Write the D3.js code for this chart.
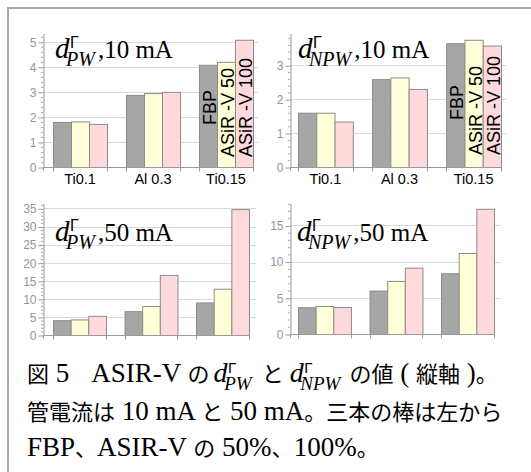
<!DOCTYPE html>
<html><head><meta charset="utf-8">
<script src="https://cdn.jsdelivr.net/npm/d3@7"></script>
<style>body{margin:0;background:#fff}svg{display:block}text{white-space:pre}</style>
</head><body>
<svg id="c" width="531" height="472"></svg>
<script>
// ---- data ----
const categories = ["Ti0.1", "Al 0.3", "Ti0.15"];
const seriesNames = ["FBP", "ASiR -V 50", "ASiR -V 100"];
const seriesColors = ["#a6a6a6", "#ffffd8", "#ffd9dc"];
// values per category: [FBP, ASiR-V 50, ASiR-V 100]
const dPW10  = [[1.80, 1.82, 1.72], [2.88, 2.95, 3.00], [4.08, 4.20, 5.08]];
const dNPW10 = [[1.60, 1.60, 1.34], [2.59, 2.64, 2.30], [3.65, 3.75, 3.58]];
const dPW50  = [[4.1, 4.3, 5.3], [6.6, 8.0, 16.6], [9.0, 12.8, 34.8]];
const dNPW50 = [[3.7, 3.87, 3.73], [6.0, 7.33, 9.17], [8.4, 11.2, 17.3]];
const ticksPW10  = [0, 1, 2, 3, 4, 5];
const ticksNPW10 = [0, 1, 2, 3];
const ticksPW50  = [0, 5, 10, 15, 20, 25, 30, 35];
const ticksNPW50 = [0, 5, 10, 15];
const titleSubs = ["PW", "NPW", "PW", "NPW"];
const titleRest = [",10 mA", ",10 mA", ",50 mA", ",50 mA"];
const captionLine1a = "図 5　ASIR-V の";
const captionLine1b = "と";
const captionLine1c = "の値 ( 縦軸 )。";
const captionLine2 = "管電流は 10 mA と 50 mA。三本の棒は左から";
const captionLine3 = "FBP、ASIR-V の 50%、100%。";

// ---- layout ----
const panels = [
  {data: dPW10,  ticks: ticksPW10,  max: 5.35, minor: 0.2, ax: 43,  y0: 167, yTop: 33,  b0: 53,  b1: 253, gEnd: 258, showX: true,  rot: [42, 10, 10]},
  {data: dNPW10, ticks: ticksNPW10, max: 3.95, minor: 0.2, ax: 290, y0: 167, yTop: 33,  b0: 298, b1: 501, gEnd: 507, showX: true,  rot: [47, 12, 12]},
  {data: dPW50,  ticks: ticksPW50,  max: 36.5, minor: 1,   ax: 43,  y0: 335, yTop: 203, b0: 53,  b1: 249, gEnd: 256, showX: false},
  {data: dNPW50, ticks: ticksNPW50, max: 18.1, minor: 1,   ax: 290, y0: 334, yTop: 203, b0: 298, b1: 494, gEnd: 500, showX: false}
];
const titlePos = [[55, 58], [298, 58], [55, 241], [297, 241]];

const svg = d3.select("#c");
const SANS = "Liberation Sans, Arial, sans-serif";
const SERIF = "Liberation Serif, Times New Roman, serif";
const JP = "Noto Sans CJK JP, sans-serif";
const CJK_RE = /[\u3000-\u30ff\u4e00-\u9fff\uff00-\uffef]/;

// frame
svg.append("path").attr("d", "M8,472V8H531").attr("fill", "none")
  .attr("stroke", "#a8a8a8").attr("stroke-width", 2);

// appends a positioned run to text element t, returns its advance
function run(t, x, y, s, fam, size, italic) {
  const sp = t.append("tspan").attr("x", x).attr("y", y).attr("font-family", fam)
    .attr("font-size", size).text(s);
  if (italic) sp.attr("font-style", "italic");
  return sp.node().getComputedTextLength();
}
// d with Γ superscript and subscript, all inside text element t
function mathD(t, x, y, sub, dSize, subSize, gSize) {
  const dw = run(t, x, y, "d", SERIF, dSize, true);
  const sx = x + dw - dSize * 0.12;
  const sw = run(t, sx, y + dSize * 0.27, sub, SERIF, subSize, true);
  run(t, x + dw + 0.5, y - dSize * 0.33, "Γ", SANS, gSize, false);
  return dw - dSize * 0.12 + sw;
}
// Japanese / Latin mixed string, returns advance
function mixed(t, x, y, str) {
  const runs = [];
  for (const ch of str) {
    const isJ = CJK_RE.test(ch);
    if (runs.length && runs[runs.length - 1].j === isJ) runs[runs.length - 1].s += ch;
    else runs.push({j: isJ, s: ch});
  }
  let cx = x;
  runs.forEach(r => { cx += run(t, cx, y, r.s, r.j ? JP : SERIF, r.j ? 22 : 27, false); });
  return cx - x;
}

panels.forEach((p, i) => {
  const g = svg.append("g");
  const y = d3.scaleLinear().domain([0, p.max]).range([p.y0, p.yTop]);
  const x = d3.scaleBand().domain(categories).range([p.b0, p.b1]).paddingInner(0.26).paddingOuter(0);
  const xs = d3.scaleBand().domain(seriesNames).range([0, x.bandwidth()]);

  // grid
  g.append("g").selectAll("line").data(p.ticks.filter(t => t > 0)).join("line")
    .attr("x1", p.ax).attr("x2", p.gEnd)
    .attr("y1", d => Math.round(y(d)) + 0.5).attr("y2", d => Math.round(y(d)) + 0.5)
    .attr("stroke", "#dadada").attr("stroke-width", 1);

  // bars
  categories.forEach((c, ci) => {
    g.append("g").selectAll("rect").data(p.data[ci]).join("rect")
      .attr("x", (v, si) => x(c) + xs(seriesNames[si]) + 0.5)
      .attr("y", v => y(v) + 0.5)
      .attr("width", xs.bandwidth())
      .attr("height", v => y(0) - y(v))
      .attr("fill", (v, si) => seriesColors[si])
      .attr("stroke", "#8c8c8c").attr("stroke-width", 1);
  });

  // y axis
  const ya = g.append("g").attr("transform", `translate(${p.ax + 0.5},0.5)`)
    .call(d3.axisLeft(y).tickValues(p.ticks).tickSize(5).tickSizeOuter(0).tickPadding(2).tickFormat(d3.format("d")));
  ya.select(".domain").attr("stroke", "#9a9a9a");
  ya.selectAll(".tick line").attr("stroke", "#9a9a9a");
  ya.selectAll(".tick text").attr("fill", "#8a98a8").attr("font-size", 12).attr("font-family", SANS);
  ya.append("line").attr("x1", 0).attr("x2", 0).attr("y1", p.y0).attr("y2", p.y0 + 3).attr("stroke", "#9a9a9a");
  ya.append("g").selectAll("line").data(d3.range(0, p.max, p.minor).filter(v => !p.ticks.some(t => Math.abs(t - v) < 1e-6)))
    .join("line").attr("x1", -2.5).attr("x2", 0).attr("y1", d => y(d)).attr("y2", d => y(d)).attr("stroke", "#a8a8a8");

  // x axis
  const xa = g.append("g").attr("transform", `translate(0,${p.y0 + 0.5})`)
    .call(d3.axisBottom(x).tickSize(0).tickPadding(6).tickSizeOuter(0));
  xa.select(".domain").attr("stroke", "#9a9a9a").attr("d", `M${p.ax},0H${p.b1 + 1}`);
  if (p.showX) {
    xa.selectAll(".tick text").attr("fill", "#000").attr("font-size", 14.5).attr("font-family", SANS);
  } else {
    xa.selectAll(".tick text").remove();
  }
  const edges = categories.flatMap(c => [x(c), x(c) + x.bandwidth()]);
  xa.append("g").selectAll("line").data(edges).join("line")
    .attr("x1", d => Math.round(d) + 0.5).attr("x2", d => Math.round(d) + 0.5)
    .attr("y1", 0).attr("y2", 4).attr("stroke", "#9a9a9a");

  // rotated series labels in the last group
  if (p.rot) {
    const c = categories[2];
    seriesNames.forEach((s, si) => {
      const bx = x(c) + xs(s) + xs.bandwidth() - 1;
      g.append("text").attr("transform", `translate(${bx},${p.y0 - p.rot[si]}) rotate(-90)`)
        .attr("font-family", SANS).attr("font-size", 18).attr("fill", "#000").text(s);
    });
  }

  // title (one text element)
  const [tx, ty] = titlePos[i];
  const t = g.append("text").attr("fill", "#000");
  const tw = mathD(t, tx, ty, titleSubs[i], 29, 20, 16);
  run(t, tx + tw + 3, ty, titleRest[i], SERIF, 25, false);
});

// caption
const cap = svg.append("g");
const cy1 = 382;
const t1 = cap.append("text").attr("fill", "#000");
let cx = 27;
cx += mixed(t1, cx, cy1, captionLine1a) + 4;
cx += mathD(t1, cx, cy1, "PW", 28, 19, 15) + 10;
cx += mixed(t1, cx, cy1, captionLine1b) + 6;
cx += mathD(t1, cx, cy1, "NPW", 28, 19, 15) + 9;
mixed(t1, cx, cy1, captionLine1c);
mixed(cap.append("text").attr("fill", "#000"), 27, 420, captionLine2);
mixed(cap.append("text").attr("fill", "#000"), 27, 456, captionLine3);
</script>
</body></html>
